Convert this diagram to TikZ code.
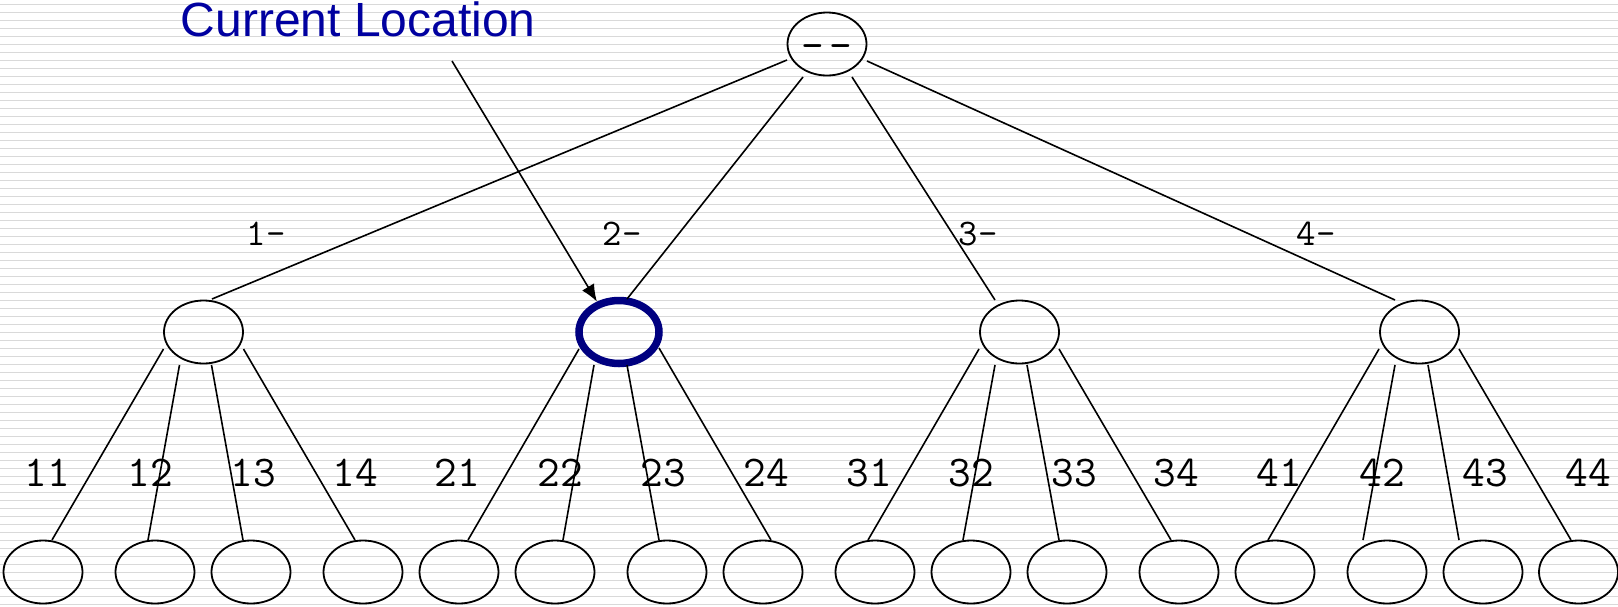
\documentclass[tikz,border=0pt]{standalone}
\usepackage{fontspec}
\usetikzlibrary{calc,arrows.meta,shapes.geometric}
\newfontfamily\arialfont{Liberation Sans}
\definecolor{stripe}{RGB}{217,217,217}
\definecolor{navyring}{RGB}{0,0,128}
\definecolor{labelblue}{RGB}{0,0,160}
\begin{document}
\begin{tikzpicture}[x=1pt,y=-1pt,
  nd/.style={ellipse,draw=black,line width=1.8pt,minimum width=79pt,minimum height=63pt,inner sep=0pt},
  cur/.style={ellipse,draw=navyring,line width=7.5pt,minimum width=80pt,minimum height=63pt,inner sep=0pt},
  edge/.style={line width=1.6pt,black},
  leaflbl/.style={font=\ttfamily\fontsize{44}{50}\selectfont,anchor=base,inner sep=0pt},
  midlbl/.style={font=\ttfamily\fontsize{37.6}{44}\selectfont,anchor=base,inner sep=0pt},
  titlelbl/.style={font=\arialfont\fontsize{48}{58}\selectfont,text=labelblue,anchor=base west,inner sep=0pt}]
\useasboundingbox (0,0) rectangle (1618,606);
\fill[white] (0,0) rectangle (1618,606);
\foreach \k in {0,...,75} \fill[stripe] (0,{4+8*\k}) rectangle (1618,{5.33+8*\k});

% nodes
\node[nd,font=\ttfamily\fontsize{44}{50}\selectfont] (r) at (827,44) {\raisebox{-15pt}[0pt][0pt]{-\kern5pt-}};
\node[nd] (n1) at (203.5,332) {};
\node[cur] (n2) at (619,332) {};
\node[nd] (n3) at (1019.5,332) {};
\node[nd] (n4) at (1419.5,332) {};
\foreach \nm/\x in {l11/43,l12/155,l13/251,l14/363,l21/459,l22/555,l23/667,l24/763,
                    l31/875,l32/971,l33/1067,l34/1179,l41/1275,l42/1387,l43/1483,l44/1578.5}
  \node[nd] (\nm) at (\x,572) {};

% root edges
\draw[edge] ($(r)+(-40,16)$) -- ($(n1)+(8.5,-33)$);
\draw[edge] ($(r)+(-24,33)$) -- ($(n2)+(8,-33)$);
\draw[edge] ($(r)+(25,33)$) -- ($(n3)+(-24.5,-32)$);
\draw[edge] ($(r)+(40,17)$) -- ($(n4)+(-24.5,-32)$);

% child edges
\foreach \p/\px/\py/\c/\dx in {
  n1/-40/17/l11/9, n1/-24/33/l12/-7, n1/8/33/l13/-8, n1/40/17/l14/-8,
  n2/-40/17/l21/9, n2/-25/33/l22/8, n2/8/33/l23/-8, n2/40/16/l24/8,
  n3/-40.5/17/l31/-7, n3/-24.5/33/l32/-8, n3/7.5/33/l33/-8, n3/39.5/17/l34/-8,
  n4/-40.5/17/l41/-7, n4/-24.5/33/l42/-24, n4/8.5/33/l43/-24, n4/39.5/17/l44/-7.5}
  \draw[edge] ($(\p)+(\px,\py)$) -- ($(\c)+(\dx,-32)$);

% arrow
\coordinate (cls) at (452,61);
\draw[edge,-{Latex[length=17pt,width=14pt]}] (cls) -- (n2.126);
\node[titlelbl] (title) at (180.5,36.7) {Current Location};

% labels
\node[midlbl] (t1) at (266,245) {1-};
\node[midlbl] (t2) at (622,245) {2-};
\node[midlbl] (t3) at (978,245) {3-};
\node[midlbl] (t4) at (1316,245) {4-};
\foreach \t/\x in {11/47.5,12/150,13/253,14/355,21/457,22/560,23/663,24/766,
                   31/869,32/971,33/1074,34/1176,41/1279,42/1382,43/1485,44/1588}
  \node[leaflbl] (lab\t) at (\x,486) {\t};
\end{tikzpicture}
\end{document}
